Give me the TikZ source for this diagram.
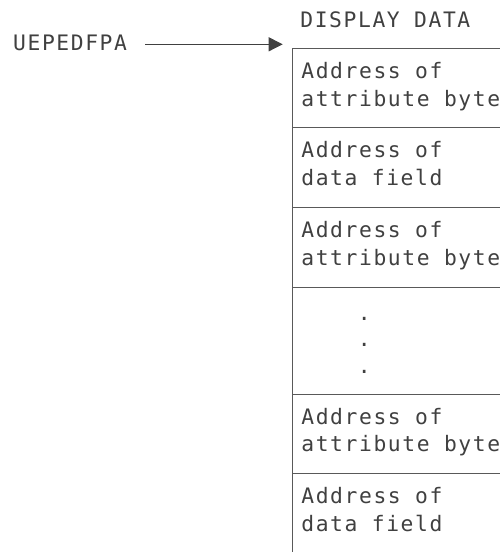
\documentclass[tikz,border=0pt]{standalone}
\usepackage{fontspec}
\setmonofont{DejaVu Sans Mono}[LetterSpace=7.5]
\usetikzlibrary{calc}
\usetikzlibrary{positioning}
\usetikzlibrary{arrows.meta}

\begin{document}
\begin{tikzpicture}[x=1pt, y=1pt,
  cell/.style={draw=black!65, line width=1pt, anchor=north west, minimum width=300pt, inner sep=0pt, outer sep=0pt},
  txt/.style={font=\ttfamily\fontsize{21.3}{27.5}\selectfont, text=black!75, inner sep=0pt, align=left}]

\useasboundingbox (0,0) rectangle (500,-552);

\node[cell, minimum height=79pt] (r1) at (292.7,-48.3) {};
\node[cell, minimum height=80pt, below=0pt of r1] (r2) {};
\node[cell, minimum height=80pt, below=0pt of r2] (r3) {};
\node[cell, minimum height=106.7pt, below=0pt of r3] (r4) {};
\node[cell, minimum height=79.3pt, below=0pt of r4] (r5) {};
\node[cell, minimum height=120pt, below=0pt of r5] (r6) {};

\node[txt, anchor=base west] (title) at ($(r1.north west)+(7.5,21.3)$) {DISPLAY DATA};
\node[txt, anchor=base west] (uep) at (13,-50) {UEPEDFPA};

\node[txt, anchor=north west] (t1) at ($(r1.north west)+(8.5,-14)$) {Address of\\attribute byte};
\node[txt, anchor=north west] (t2) at ($(r2.north west)+(8.5,-14)$) {Address of\\data field};
\node[txt, anchor=north west] (t3) at ($(r3.north west)+(8.5,-14)$) {Address of\\attribute byte};
\node[txt, anchor=north, align=center, font=\ttfamily\fontsize{21.3}{26.5}\selectfont] (dots) at ($(r4.north west)+(71.5,-29.5)$) {.\\.\\.};
\node[txt, anchor=north west] (t5) at ($(r5.north west)+(8.5,-14)$) {Address of\\attribute byte};
\node[txt, anchor=north west] (t6) at ($(r6.north west)+(8.5,-14)$) {Address of\\data field};

\coordinate (tip) at ($(r1.north west)+(-10,4)$);
\draw[-{Triangle[length=14pt, width=14pt]}, line width=1pt, black!75, shorten <=18pt] (uep.east |- tip) -- (tip);

\end{tikzpicture}
\end{document}
